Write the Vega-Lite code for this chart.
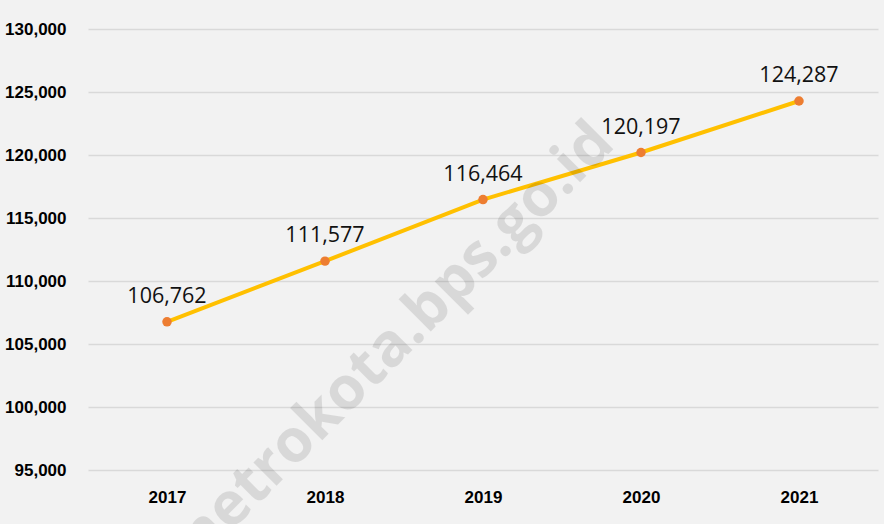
{
  "$schema": "https://vega.github.io/schema/vega-lite/v6.json",
  "width": 790,
  "height": 441,
  "autosize": {"type": "none"},
  "padding": {"left": 88, "top": 29, "right": 6, "bottom": 54},
  "background": "#f2f2f2",
  "config": {
    "view": {"stroke": null},
    "axis": {
      "labelFont": "Liberation Sans",
      "labelFontWeight": "bold",
      "labelFontSize": 17,
      "labelColor": "#000000",
      "ticks": false,
      "domain": false,
      "title": null
    }
  },
  "datasets": {
    "pop": [
      {"year": "2017", "value": 106762},
      {"year": "2018", "value": 111577},
      {"year": "2019", "value": 116464},
      {"year": "2020", "value": 120197},
      {"year": "2021", "value": 124287}
    ],
    "mark": [
      {"pos": 2018.49, "value": 103730, "label": "metrokota.bps.go.id"}
    ]
  },
  "layer": [
    {
      "data": {"name": "pop"},
      "encoding": {
        "x": {
          "field": "year",
          "type": "ordinal",
          "scale": {"type": "point", "padding": 0.5},
          "axis": {"labelAngle": 0, "labelPadding": 19, "grid": false}
        },
        "y": {
          "field": "value",
          "type": "quantitative",
          "scale": {"domain": [95000, 130000], "nice": false, "zero": false},
          "axis": {
            "values": [95000, 100000, 105000, 110000, 115000, 120000, 125000, 130000],
            "format": ",d",
            "labelPadding": 22,
            "grid": true,
            "gridColor": "#d9d9d9",
            "gridWidth": 1.5
          }
        }
      },
      "layer": [
        {"mark": {"type": "line", "color": "#ffc000", "strokeWidth": 4}},
        {"mark": {"type": "point", "filled": true, "color": "#ed7d31", "size": 90, "opacity": 1}},
        {
          "mark": {"type": "text", "font": "Open Sans", "fontWeight": 500, "fontSize": 21.5, "color": "#111111", "baseline": "alphabetic", "dy": -19},
          "encoding": {"text": {"field": "value", "type": "quantitative", "format": ",d"}}
        }
      ]
    },
    {
      "data": {"name": "mark"},
      "mark": {"type": "text", "font": "Open Sans", "fontWeight": "bold", "fontSize": 60, "color": "#000000", "opacity": 0.1, "angle": -45, "align": "center", "baseline": "alphabetic"},
      "encoding": {
        "x": {"field": "pos", "type": "quantitative", "scale": {"domain": [2016.5, 2021.5], "nice": false, "zero": false}, "axis": null},
        "y": {"field": "value", "type": "quantitative", "scale": {"domain": [95000, 130000], "nice": false, "zero": false}, "axis": null},
        "text": {"field": "label"}
      }
    }
  ],
  "resolve": {"scale": {"x": "independent", "y": "independent"}}
}
